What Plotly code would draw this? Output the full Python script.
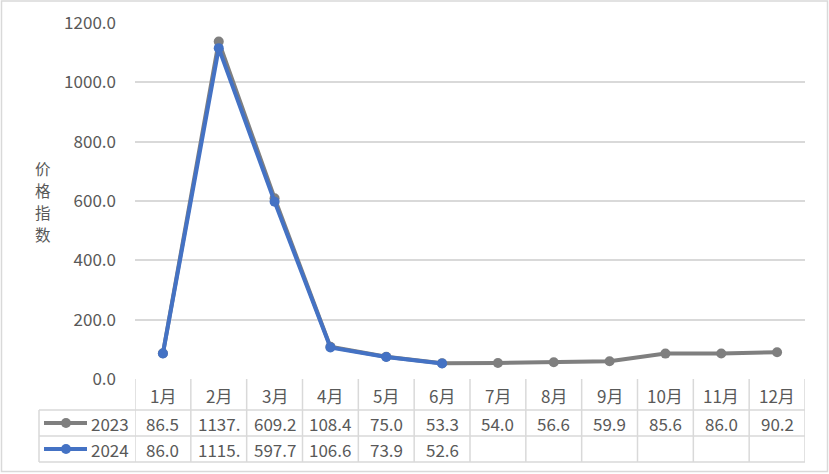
import plotly.graph_objects as go

months = ["1月", "2月", "3月", "4月", "5月", "6月", "7月", "8月", "9月", "10月", "11月", "12月"]
series_names = ["2023", "2024"]
values_2023 = [86.5, 1137.4, 609.2, 108.4, 75.0, 53.3, 54.0, 56.6, 59.9, 85.6, 86.0, 90.2]
values_2024 = [86.0, 1115.2, 597.7, 106.6, 73.9, 52.6, None, None, None, None, None, None]
y_ticks = [0, 200, 400, 600, 800, 1000, 1200]
y_title = "价格指数"

colors = {"2023": "#7F7F7F", "2024": "#4472C4"}
series = {"2023": values_2023, "2024": values_2024}

FONT = "Noto Sans CJK SC, Liberation Sans, sans-serif"
TXT = "#595959"
GRID = "#D9D9D9"
FS = 17

W, H = 829, 474
L, R, T, B = 135, 24, 23, 95
PW, PH = W - L - R, H - T - B

def px_x(px):
    return (px - L) / PW

def px_y(py):
    return (H - B - py) / PH

fig = go.Figure()
for name in series_names:
    fig.add_trace(go.Scatter(
        x=months, y=series[name], name=name, mode="lines+markers",
        line=dict(color=colors[name], width=4),
        marker=dict(color=colors[name], size=10),
        showlegend=False,
    ))

shapes = []
annotations = []

# table geometry (pixel rows)
row_edges = [379, 410, 436, 462]
row_centers = [395, 423, 449]
leg_left = 39
lc = dict(color=GRID, width=1.5)

# horizontal table lines
for py in row_edges[1:]:
    shapes.append(dict(type="line", xref="paper", yref="paper",
                       x0=px_x(leg_left), x1=1, y0=px_y(py), y1=px_y(py), line=lc, layer="below"))
# vertical category lines
n = len(months)
for k in range(n + 1):
    shapes.append(dict(type="line", xref="x", yref="paper",
                       x0=k - 0.5, x1=k - 0.5, y0=0, y1=px_y(row_edges[-1]), line=lc, layer="below"))
# legend column left edge
shapes.append(dict(type="line", xref="paper", yref="paper",
                   x0=px_x(leg_left), x1=px_x(leg_left), y0=px_y(row_edges[1]), y1=px_y(row_edges[-1]), line=lc))

def txt(x, xref, y, text, size=FS, xanchor="center", pad=1):
    return dict(x=x, xref=xref, y=y, yref="paper", text=text, showarrow=False,
                xanchor=xanchor, yanchor="middle", borderpad=pad,
                font=dict(family=FONT, size=size, color=TXT))

# header
for m in months:
    annotations.append(txt(m, "x", px_y(row_centers[0]), m))

# values & legend keys
for r, name in enumerate(series_names):
    yc = px_y(row_centers[r + 1])
    for m, v in zip(months, series[name]):
        if v is None:
            continue
        annotations.append(txt(m, "x", yc, f"{v:.1f}"[:5]))
    shapes.append(dict(type="line", xref="paper", yref="paper",
                       x0=px_x(44), x1=px_x(87), y0=yc, y1=yc,
                       line=dict(color=colors[name], width=4)))
    shapes.append(dict(type="circle", xref="paper", yref="paper",
                       xsizemode="pixel", ysizemode="pixel",
                       xanchor=px_x(66), yanchor=yc, x0=-5, x1=5, y0=-5, y1=5,
                       fillcolor=colors[name], line=dict(color=colors[name], width=0)))
    annotations.append(txt(px_x(131), "paper", yc, name, xanchor="right"))

# y-axis title (stacked characters)
for i, ch in enumerate(y_title):
    annotations.append(txt(px_x(43), "paper", px_y(168 + 22 * i), ch, size=15.5, pad=0))

# outer border
shapes.append(dict(type="rect", xref="paper", yref="paper",
                   x0=px_x(1.5), x1=px_x(827.5), y0=px_y(471.5), y1=px_y(1),
                   line=dict(color=GRID, width=1.5)))

fig.update_layout(
    width=W, height=H,
    margin=dict(l=L, r=R, t=T, b=B, autoexpand=False),
    paper_bgcolor="white", plot_bgcolor="white",
    font=dict(family=FONT, size=FS, color=TXT),
    shapes=shapes, annotations=annotations,
    xaxis=dict(type="category", categoryorder="array", categoryarray=months,
               range=[-0.5, n - 0.5], showticklabels=False, showgrid=False,
               zeroline=False, showline=False, ticks="", automargin=False),
    yaxis=dict(range=[0, 1200], tickvals=y_ticks, tickformat=".1f",
               showgrid=True, gridcolor=GRID, gridwidth=1.5, zeroline=False,
               showline=False, ticks="", ticklabelstandoff=18, automargin=False,
               tickfont=dict(family=FONT, size=FS, color=TXT)),
)

fig.write_html("out.html", config={"displayModeBar": False},
               post_script="document.body.style.margin='0';document.body.style.padding='0';")
